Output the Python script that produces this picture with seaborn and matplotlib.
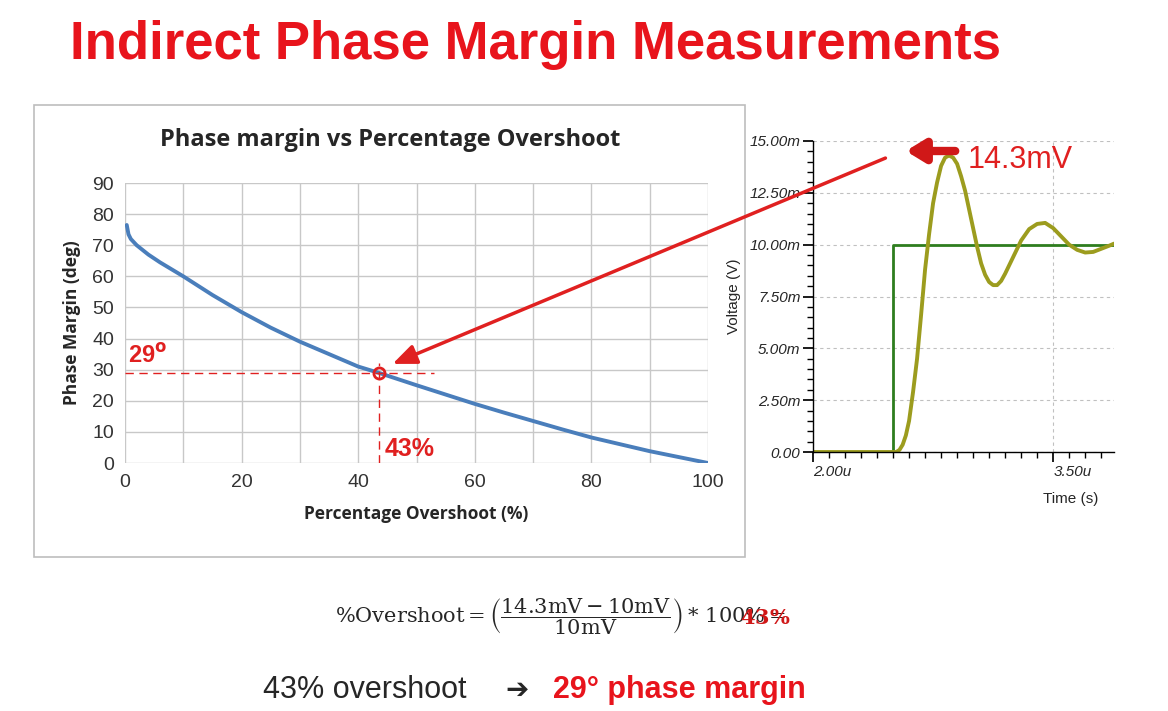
import matplotlib
matplotlib.use("Agg")
import matplotlib.pyplot as plt
import seaborn as sns
import pandas as pd
from matplotlib.patches import Rectangle

sns.set_theme(style="white")
plt.rcParams['font.family'] = ['Liberation Sans', 'DejaVu Sans']

# Phase margin vs overshoot data
overshoot = [0.3, 0.6, 1, 2, 4, 6, 10, 15, 20, 25, 30, 35, 40, 43.5, 50, 55, 60, 65, 70, 75, 80, 85, 90, 95, 100]
phase_margin = [76.5, 73.5, 72, 70, 67, 64.5, 60, 54, 48.5, 43.5, 39, 35, 31, 29, 25, 22, 19, 16.2, 13.5, 10.8, 8.2, 6, 3.8, 1.9, 0]

# Step response data (time in us, voltage in mV)
t_resp = [2.0, 2.5, 2.52, 2.54, 2.56, 2.58, 2.6, 2.625, 2.65, 2.675, 2.7, 2.725, 2.75, 2.775, 2.8, 2.825, 2.85,
          2.875, 2.9, 2.925, 2.95, 2.975, 3.0, 3.025, 3.05, 3.075, 3.1, 3.125, 3.15, 3.175, 3.2, 3.225, 3.25,
          3.3, 3.35, 3.4, 3.45, 3.5, 3.55, 3.6, 3.65, 3.7, 3.75, 3.8, 3.85, 3.88]
v_resp = [0.0, 0.0, 0.0, 0.1, 0.35, 0.8, 1.5, 2.9, 4.5, 6.6, 8.8, 10.5, 12.0, 13.0, 13.8, 14.2, 14.3,
          14.2, 13.9, 13.3, 12.6, 11.7, 10.8, 9.9, 9.1, 8.55, 8.2, 8.05, 8.05, 8.25, 8.6, 9.0, 9.4,
          10.2, 10.75, 11.0, 11.05, 10.8, 10.4, 10.0, 9.75, 9.62, 9.65, 9.8, 9.95, 10.05]
t_step = [2.0, 2.5, 2.5, 3.88]
v_step = [0.0, 0.0, 10.0, 10.0]

pt_x, pt_y = 43.5, 29

W, H = 1168, 711
fig = plt.figure(figsize=(W/100, H/100), dpi=100)
fig.patch.set_facecolor('white')

def fx(px): return px / W
def fy(py): return 1 - py / H

ov = fig.add_axes([0, 0, 1, 1], zorder=0)
ov.set_xlim(0, W); ov.set_ylim(H, 0); ov.axis('off')
ov.add_patch(Rectangle((34, 105), 711, 452, fill=False, edgecolor='#bdbdbd', lw=1.2))

# ---- Left chart
ax = fig.add_axes([fx(125), fy(463), fx(708) - fx(125), fy(183) - fy(463)], zorder=1)
ax.patch.set_alpha(0)
df = pd.DataFrame({'os': overshoot, 'pm': phase_margin})
sns.lineplot(data=df, x='os', y='pm', ax=ax, color='#4a7ebb', lw=2.8)
ax.set_xlim(0, 100); ax.set_ylim(0, 90)
ax.set_xticks(range(0, 101, 20))
ax.set_xticks(range(0, 101, 10), minor=True)
ax.set_yticks(range(0, 91, 10))
ax.grid(True, which='both', color='#c8c8c8', lw=1)
for s in ax.spines.values():
    s.set_visible(False)
ax.tick_params(labelsize=14, colors='#333333', length=0, pad=8)
ax.set_xlabel('Percentage Overshoot (%)', fontsize=12.5, fontweight='bold', family=['Open Sans', 'DejaVu Sans'], labelpad=10)
ax.set_ylabel('Phase Margin (deg)', fontsize=12.5, fontweight='bold', family=['Open Sans', 'DejaVu Sans'], labelpad=8)
ax.plot([0, 53], [pt_y, pt_y], color='#e02020', ls=(0, (6, 4)), lw=1)
ax.plot([pt_x, pt_x], [0, 32], color='#e02020', ls=(0, (6, 4)), lw=1)
ax.plot([pt_x], [pt_y], 'o', mfc='none', mec='#e02020', mew=2, ms=8)
ax.text(0.5, 30.5, '29$^{\\mathbf{o}}$', color='#e02020', fontsize=17, fontweight='bold', ha='left', va='bottom')
ax.text(44.5, 0.5, '43%', color='#e02020', fontsize=18, fontweight='bold', ha='left', va='bottom')
fig.text(fx(390), fy(140), 'Phase margin vs Percentage Overshoot', fontsize=17, fontweight='bold',
         ha='center', va='center', family=['Open Sans', 'DejaVu Sans'])

# ---- Right chart
ax2 = fig.add_axes([fx(813), fy(452), fx(1114) - fx(813), fy(141) - fy(452)], zorder=1)
ax2.patch.set_alpha(0)
sns.lineplot(x=t_step, y=v_step, ax=ax2, color='#2e7d1e', lw=2, sort=False, estimator=None)
sns.lineplot(x=t_resp, y=v_resp, ax=ax2, color='#9c9c1e', lw=2.8, sort=False, estimator=None)
ax2.set_xlim(2.0, 3.88); ax2.set_ylim(0, 15)
ax2.set_yticks([0, 2.5, 5, 7.5, 10, 12.5, 15])
ax2.set_yticklabels(['0.00', '2.50m', '5.00m', '7.50m', '10.00m', '12.50m', '15.00m'])
ax2.set_yticks([i * 0.5 for i in range(31)], minor=True)
ax2.set_xticks([2.0, 3.5])
ax2.set_xticklabels(['2.00u', '3.50u'])
ax2.set_xticks([2.0 + i * 0.1 for i in range(19)], minor=True)
ax2.grid(True, which='major', color='#c0c0c0', ls=(0, (3, 3)), lw=0.8)
for s in ['top', 'right']:
    ax2.spines[s].set_visible(False)
for s in ['left', 'bottom']:
    ax2.spines[s].set_color('black'); ax2.spines[s].set_linewidth(1)
ax2.tick_params(which='major', length=7, color='black', direction='out', left=True, bottom=True,
                labelsize=11, pad=2)
ax2.tick_params(which='minor', length=4, color='black', direction='out', left=True, bottom=True)
for lab in ax2.get_xticklabels() + ax2.get_yticklabels():
    lab.set_style('italic')
for lab in ax2.get_xticklabels():
    lab.set_horizontalalignment('left')
ax2.set_ylabel('Voltage (V)', fontsize=11, labelpad=6)
ax2.set_xlabel('')
fig.text(fx(1071), fy(499), 'Time (s)', fontsize=11, ha='center', va='center')

# ---- Arrows and annotations
ov2 = fig.add_axes([0, 0, 1, 1], zorder=3)
ov2.set_xlim(0, W); ov2.set_ylim(H, 0); ov2.axis('off'); ov2.patch.set_alpha(0)
ov2.annotate('', xy=(390, 365), xytext=(888, 157),
             arrowprops=dict(arrowstyle='-|>,head_length=1.2,head_width=0.5', color='#e02020', lw=2.5))
ov2.annotate('', xy=(903, 151), xytext=(958, 151),
             arrowprops=dict(arrowstyle='-|>,head_length=0.9,head_width=0.55', color='#d01818', lw=6))
ov2.text(968, 160, '14.3mV', color='#e02020', fontsize=22, ha='left', va='center')

fig.text(fx(70), fy(45), 'Indirect Phase Margin Measurements', color='#e8141c', fontsize=38,
         fontweight='bold', ha='left', va='center')

fig.text(fx(335), fy(617),
         r'$\%\mathrm{Overshoot}=\left(\dfrac{14.3\mathrm{mV}-10\mathrm{mV}}{10\mathrm{mV}}\right)*\,100\%=$',
         fontsize=15, ha='left', va='center', math_fontfamily='dejavuserif')
fig.text(fx(740), fy(618), r'$\mathbf{43\%}$', color='#d01818', fontsize=15, ha='left', va='center',
         math_fontfamily='dejavuserif')

fig.text(fx(263), fy(690), '43% overshoot ', fontsize=22, ha='left', va='center')
fig.text(fx(505), fy(690), '\u2794', fontsize=20, fontweight='bold', ha='left', va='center',
         family=['DejaVu Sans'])
fig.text(fx(553), fy(690), '29\u00b0 phase margin', fontsize=22, fontweight='bold', color='#e8141c',
         ha='left', va='center')

fig.savefig('out.png', dpi=100, facecolor='white')
